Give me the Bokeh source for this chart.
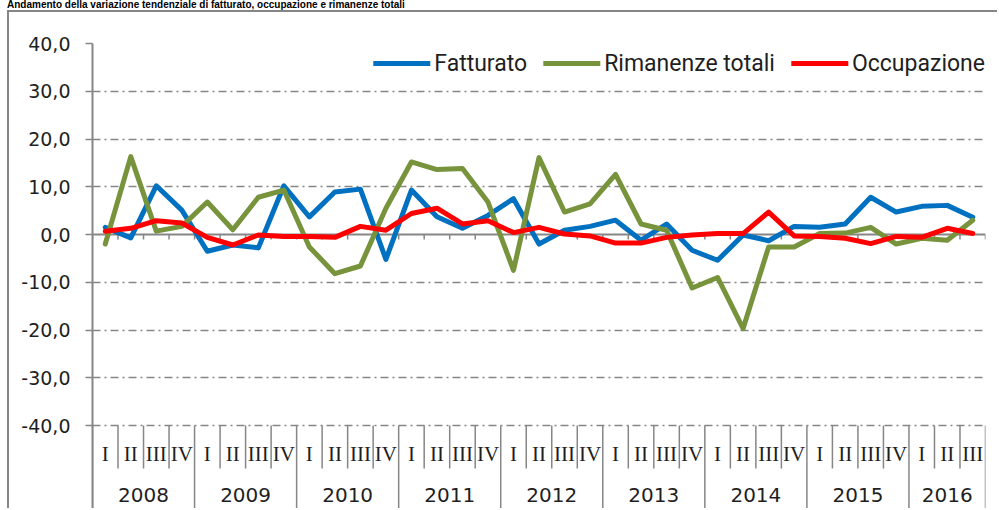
import numpy as np
from bokeh.plotting import figure
from bokeh.layouts import column
from bokeh.models import Range1d, FixedTicker, Span, Legend, LegendItem, Div
from bokeh.core.properties import value
from bokeh.embed import file_html
from bokeh.resources import INLINE

# ---------------- data ----------------
title_text = "Andamento della variazione tendenziale di fatturato, occupazione e rimanenze totali"
years = ["2008", "2009", "2010", "2011", "2012", "2013", "2014", "2015", "2016"]
quarters_per_year = [4, 4, 4, 4, 4, 4, 4, 4, 3]
quarter_names = ["I", "II", "III", "IV"]

fatturato = [1.5, -0.7, 10.2, 5.1, -3.5, -2.2, -2.8, 10.2, 3.7, 8.9, 9.5, -5.2,
             9.3, 3.7, 1.3, 4.0, 7.5, -2.0, 0.9, 1.7, 3.0, -1.2, 2.2, -3.3,
             -5.4, -0.1, -1.3, 1.7, 1.5, 2.2, 7.8, 4.7, 5.9, 6.1, 3.6]
rimanenze = [-2.0, 16.3, 0.7, 1.7, 6.8, 1.0, 7.8, 9.3, -2.6, -8.2, -6.6, 5.5,
             15.2, 13.6, 13.8, 6.8, -7.5, 16.1, 4.7, 6.4, 12.6, 2.2, 0.9, -11.2,
             -9.0, -19.7, -2.6, -2.6, 0.2, 0.3, 1.5, -2.0, -0.8, -1.2, 3.0]
occupazione = [0.7, 1.3, 2.9, 2.4, -0.6, -2.2, -0.1, -0.4, -0.4, -0.6, 1.7, 0.9,
               4.4, 5.5, 2.2, 2.9, 0.4, 1.5, 0.1, -0.3, -1.8, -1.8, -0.6, -0.1,
               0.2, 0.2, 4.7, -0.3, -0.4, -0.8, -1.9, -0.4, -0.6, 1.3, 0.2]

series_names = ["Fatturato", "Rimanenze totali", "Occupazione"]
series_colors = ["#0070C0", "#77933C", "#FF0000"]

y_ticks = [-40, -30, -20, -10, 0, 10, 20, 30, 40]
y_tick_labels = ["-40,0", "-30,0", "-20,0", "-10,0", "0,0", "10,0", "20,0", "30,0", "40,0"]

# ---------------- derived ----------------
period_year, period_quarter = [], []
for yr, nq in zip(years, quarters_per_year):
    for q in quarter_names[:nq]:
        period_year.append(yr)
        period_quarter.append(q)
n = len(period_quarter)
xc = np.arange(n) + 0.5
bounds = np.arange(n + 1)
year_bounds = np.concatenate([[0], np.cumsum(quarters_per_year)])
quarter_bounds = np.array([b for b in bounds if b not in set(year_bounds)])
year_centers = (year_bounds[:-1] + year_bounds[1:]) / 2.0

GRAY = "#868686"
TXT = "#1f1f1f"

Y_MIN, Y_MAX = -57.8, 40
p = figure(width=990, height=498, output_backend="svg", toolbar_location=None,
           x_range=Range1d(0, n), y_range=Range1d(Y_MIN, Y_MAX),
           min_border_left=83, min_border_right=14, min_border_top=31, min_border_bottom=0,
           x_axis_location=None, outline_line_color=None,
           background_fill_color="white", border_fill_color="white",
           styles={"margin-left": "7px", "border-left": "2px solid #868686",
                   "border-top": "2px solid #868686"})

# y axis
ax = p.yaxis[0]
ax.ticker = FixedTicker(ticks=y_ticks)
ax.major_label_overrides = dict(zip(y_ticks, y_tick_labels))
ax.axis_line_color = GRAY
ax.axis_line_width = 2
ax.major_tick_line_color = GRAY
ax.major_tick_line_width = 1.5
ax.major_tick_out = 7
ax.major_tick_in = 0
ax.minor_tick_line_color = None
ax.major_label_standoff = 15
ax.major_label_text_font = "DejaVu Sans"
ax.major_label_text_font_size = "19px"
ax.major_label_text_color = TXT

# grid
p.xgrid.visible = False
p.ygrid.ticker = FixedTicker(ticks=[t for t in y_ticks if t != 0])
p.ygrid.grid_line_color = GRAY
p.ygrid.grid_line_width = 1.5
p.ygrid.grid_line_dash = "8 4 2 4"

p.add_layout(Span(location=0, dimension="width", line_color=GRAY, line_width=2, level="underlay"))

# tick marks on zero axis
p.segment(x0=bounds, y0=0, x1=bounds, y1=-1.05, line_color=GRAY, line_width=1.5)

# category table separators
p.segment(x0=quarter_bounds, y0=-40, x1=quarter_bounds, y1=-49.0, line_color=GRAY, line_width=1.5)
p.segment(x0=year_bounds, y0=-40, x1=year_bounds, y1=-70, line_color=GRAY, line_width=1.5)

# category labels
p.text(x=xc, y=-46.07, text=period_quarter, text_font=value("Liberation Serif"),
       text_font_size="21px", text_align="center", text_baseline="middle", text_color=TXT)
p.text(x=year_centers, y=-54.45, text=years, text_font=value("DejaVu Sans"),
       text_font_size="20px", text_align="center", text_baseline="middle", text_color=TXT)

# series
renderers = []
for data, color in zip([fatturato, rimanenze, occupazione], series_colors):
    r = p.line(xc, data, line_color=color, line_width=5, line_join="round", line_cap="round")
    renderers.append(r)

legend = Legend(items=[LegendItem(label=nm, renderers=[r]) for nm, r in zip(series_names, renderers)],
                orientation="horizontal", location="top_right",
                glyph_width=57, glyph_height=40, label_height=40, label_standoff=4,
                spacing=16, padding=0, margin=0, border_line_color=None,
                background_fill_alpha=0, label_text_font="Roboto",
                label_text_font_size="23px", label_text_color=TXT)
p.add_layout(legend)

title = Div(text=title_text, width=985, height=10, margin=(0, 0, 0, 7),
            styles={"font-family": "Liberation Sans", "font-weight": "bold",
                    "font-size": "10px", "line-height": "10px", "color": "#000000",
                    "white-space": "nowrap", "overflow": "visible"})

root = column(title, p, spacing=0)
open("out.html", "w").write(file_html(root, INLINE))
